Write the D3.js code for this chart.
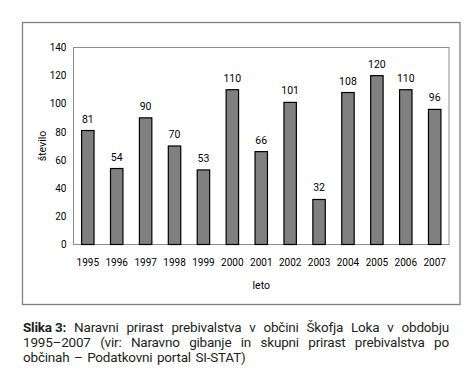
<!DOCTYPE html>
<html>
<head>
<meta charset="utf-8">
<script src="https://cdn.jsdelivr.net/npm/d3@7"></script>
<style>
  body { margin: 0; background: #fff; }
  svg { display: block; }
</style>
</head>
<body>
<div class="chart"></div>
<script>
var years = ["1995","1996","1997","1998","1999","2000","2001","2002","2003","2004","2005","2006","2007"];
var values = [81, 54, 90, 70, 53, 110, 66, 101, 32, 108, 120, 110, 96];
var yTicks = [0, 20, 40, 60, 80, 100, 120, 140];
var yLabel = "število";
var xLabel = "leto";
var captionBold = "Slika 3:";
var captionLines = [
  "Naravni prirast prebivalstva v občini Škofja Loka v obdobju",
  "1995–2007 (vir: Naravno gibanje in skupni prirast prebivalstva po",
  "občinah – Podatkovni portal SI-STAT)"
];

var width = 465, height = 389;
var chartFont = "Roboto, 'Liberation Sans', sans-serif";
var capFont = "Roboto, Lato, sans-serif";

var svg = d3.select(".chart").append("svg").attr("width", width).attr("height", height);

// outer frame
svg.append("rect")
  .attr("x", 22.5).attr("y", 22.5).attr("width", 437.5).attr("height", 282)
  .attr("fill", "none").attr("stroke", "#808080").attr("stroke-width", 1.3);

var plot = {left: 73.5, top: 47.5, right: 449, bottom: 244.5};

var x = d3.scaleBand().domain(years).range([plot.left, plot.right]).paddingInner(0.57).paddingOuter(0.28);
var y = d3.scaleLinear().domain([0, 140]).range([plot.bottom, plot.top]);

// plot area border
svg.append("rect")
  .attr("x", plot.left).attr("y", plot.top)
  .attr("width", plot.right - plot.left).attr("height", plot.bottom - plot.top)
  .attr("fill", "none").attr("stroke", "#8c8c8c").attr("stroke-width", 1);

// y axis labels
var yAxis = d3.axisLeft(y).tickValues(yTicks).tickSize(0).tickPadding(7);
var gy = svg.append("g").attr("transform", "translate(" + plot.left + ",0)").call(yAxis);
gy.select(".domain").remove();
gy.selectAll("text").style("font-family", chartFont).style("font-size", "10px").attr("fill", "#000");

// x axis labels
var xAxis = d3.axisBottom(x).tickSize(0).tickPadding(14);
var gx = svg.append("g").attr("transform", "translate(0," + plot.bottom + ")").call(xAxis);
gx.select(".domain").remove();
gx.selectAll("text").style("font-family", chartFont).style("font-size", "10px").attr("fill", "#000");

// bars
svg.append("g").selectAll("rect")
  .data(values).enter().append("rect")
  .attr("x", function(d, i) { return x(years[i]); })
  .attr("y", function(d) { return y(d); })
  .attr("width", x.bandwidth())
  .attr("height", function(d) { return y(0) - y(d); })
  .attr("fill", "#808080").attr("stroke", "#000").attr("stroke-width", 1.2);

// value labels
svg.append("g").selectAll("text")
  .data(values).enter().append("text")
  .attr("x", function(d, i) { return x(years[i]) + x.bandwidth() / 2; })
  .attr("y", function(d) { return y(d) - 8; })
  .attr("text-anchor", "middle")
  .style("font-family", chartFont).style("font-size", "10.5px")
  .text(function(d) { return d; });

// axis titles
svg.append("text")
  .attr("x", (plot.left + plot.right) / 2).attr("y", 289)
  .attr("text-anchor", "middle")
  .style("font-family", chartFont).style("font-size", "10.5px")
  .text(xLabel);
svg.append("text")
  .attr("transform", "translate(46," + (plot.top + plot.bottom) / 2 + ") rotate(-90)")
  .attr("text-anchor", "middle")
  .style("font-family", chartFont).style("font-size", "10.5px")
  .text(yLabel);

// caption, justified by spreading the words
var capLeft = 23, capRight = 449, capSize = 13.5, lineH = 15, firstBase = 332;
captionLines.forEach(function(line, li) {
  var words = line.split(" ");
  if (li === 0) words.unshift(captionBold);
  var g = svg.append("g");
  var nodes = words.map(function(w, wi) {
    return g.append("text")
      .attr("y", firstBase + li * lineH)
      .style("font-family", capFont).style("font-size", capSize + "px")
      .style("letter-spacing", "-0.2px")
      .style("font-weight", (li === 0 && wi === 0) ? "bold" : "normal")
      .attr("fill", "#231f20")
      .text(w);
  });
  var widths = nodes.map(function(n) { return n.node().getComputedTextLength(); });
  var total = d3.sum(widths);
  var last = li === captionLines.length - 1;
  var gap = last ? 4.5 : Math.max(2, (capRight - capLeft - total) / (words.length - 1));
  var cx = capLeft;
  nodes.forEach(function(n, i) {
    n.attr("x", cx);
    cx += widths[i] + gap;
  });
});
</script>
</body>
</html>
